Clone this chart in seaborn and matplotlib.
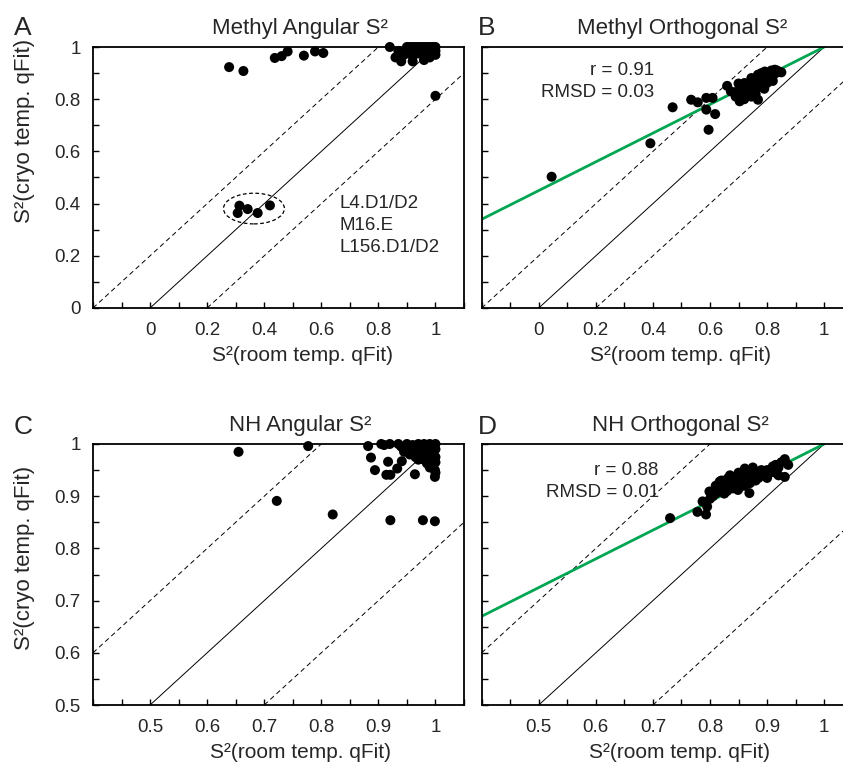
import numpy as np
import pandas as pd
import matplotlib.pyplot as plt
import seaborn as sns
from matplotlib.patches import Ellipse
from matplotlib.ticker import MultipleLocator

# ---- data ----
# A: methyl angular S2 (room temp x, cryo temp y)
methyl_ang_room = [0.277, 0.327, 0.437, 0.461, 0.482, 0.539, 0.578, 0.607,
                   0.313, 0.307, 0.342, 0.377, 0.420, 1.000,
                   0.84, 0.87, 0.86, 0.88, 0.92, 0.96, 1.00, 0.90, 0.91, 0.92,
                   0.93, 0.94, 0.95, 0.96, 0.97, 0.98, 0.99, 1.00, 0.90, 0.93,
                   0.95, 0.97, 0.99, 1.00, 0.92, 0.96, 0.98, 0.89, 0.94]
methyl_ang_cryo = [0.923, 0.908, 0.958, 0.965, 0.983, 0.967, 0.983, 0.977,
                   0.392, 0.364, 0.379, 0.364, 0.393, 0.813,
                   1.00, 0.985, 0.96, 0.945, 0.945, 0.95, 0.97, 1.00, 1.00, 1.00,
                   1.00, 1.00, 1.00, 1.00, 1.00, 1.00, 1.00, 1.00, 0.985, 0.99,
                   0.98, 0.985, 0.975, 0.985, 0.965, 0.965, 0.96, 0.97, 0.975]

# B: methyl orthogonal S2
methyl_ort_room = [0.045, 0.391, 0.469, 0.534, 0.557, 0.587, 0.609, 0.587, 0.618, 0.595,
                   0.66, 0.673, 0.704, 0.71, 0.768, 0.721, 0.745, 0.768, 0.792, 0.827,
                   0.85, 0.80, 0.757, 0.733, 0.78, 0.82, 0.74, 0.76, 0.78, 0.79,
                   0.80, 0.81, 0.83, 0.84, 0.75, 0.77, 0.79, 0.81, 0.82, 0.73,
                   0.72, 0.69, 0.70, 0.76, 0.79, 0.80, 0.77, 0.835, 0.815, 0.78,
                   0.70, 0.745, 0.765]
methyl_ort_cryo = [0.503, 0.631, 0.769, 0.798, 0.788, 0.805, 0.805, 0.760, 0.743, 0.683,
                   0.851, 0.83, 0.792, 0.82, 0.798, 0.862, 0.881, 0.894, 0.906, 0.913,
                   0.903, 0.862, 0.836, 0.823, 0.85, 0.888, 0.85, 0.865, 0.875, 0.885,
                   0.895, 0.90, 0.90, 0.905, 0.86, 0.87, 0.86, 0.875, 0.87, 0.84,
                   0.80, 0.81, 0.835, 0.82, 0.84, 0.88, 0.89, 0.91, 0.91, 0.90,
                   0.86, 0.81, 0.85]

# C: NH angular S2
nh_ang_room = [0.655, 0.777, 0.722, 0.82, 0.921, 0.978, 0.999,
               0.882, 0.887, 0.894, 0.917, 0.914, 0.921, 0.933, 0.941, 0.964, 0.999, 0.999, 0.985,
               0.905, 0.91, 0.92, 0.935, 0.95, 0.96, 0.97, 0.98, 0.99, 1.0,
               0.96, 0.97, 0.98, 0.99, 1.0, 0.95, 0.965, 0.975, 0.985, 0.995,
               1.0, 0.98, 0.99, 1.0, 0.97, 0.955, 0.99, 1.0, 0.945, 0.94]
nh_ang_cryo = [0.985, 0.996, 0.891, 0.865, 0.854, 0.854, 0.852,
               0.996, 0.974, 0.95, 0.966, 0.941, 0.941, 0.953, 0.967, 0.942, 0.937, 0.95, 0.963,
               1.0, 0.998, 1.0, 1.0, 1.0, 0.998, 1.0, 1.0, 1.0, 1.0,
               0.985, 0.99, 0.985, 0.99, 0.99, 0.99, 0.975, 0.98, 0.975, 0.98,
               0.975, 0.97, 0.965, 0.965, 0.97, 0.98, 0.955, 0.945, 0.985, 0.995]

# D: NH orthogonal S2
nh_ort_room = [0.730, 0.778, 0.793, 0.787, 0.799, 0.817, 0.831, 0.861, 0.849, 0.869,
               0.890, 0.910, 0.931, 0.931, 0.937,
               0.795, 0.80, 0.805, 0.81, 0.815, 0.82, 0.825, 0.83, 0.835, 0.84,
               0.845, 0.85, 0.855, 0.86, 0.865, 0.87, 0.875, 0.88, 0.885, 0.89,
               0.895, 0.90, 0.905, 0.91, 0.915, 0.92, 0.925, 0.86, 0.87, 0.88,
               0.84, 0.83, 0.85, 0.81, 0.835, 0.82, 0.90, 0.915, 0.875, 0.92]
nh_ort_cryo = [0.858, 0.870, 0.865, 0.890, 0.909, 0.928, 0.934, 0.953, 0.912, 0.906,
               0.950, 0.957, 0.971, 0.937, 0.960,
               0.88, 0.895, 0.90, 0.905, 0.91, 0.915, 0.905, 0.92, 0.925, 0.93,
               0.935, 0.925, 0.94, 0.93, 0.945, 0.935, 0.94, 0.945, 0.935, 0.94,
               0.945, 0.95, 0.945, 0.95, 0.96, 0.955, 0.965, 0.92, 0.925, 0.93,
               0.915, 0.91, 0.945, 0.92, 0.94, 0.93, 0.935, 0.945, 0.955, 0.94]

# linear fits shown in green (cryo = intercept + slope * room)
fit_intercept = 0.45
fit_slope = 0.55

titles = ["Methyl Angular S\u00b2", "Methyl Orthogonal S\u00b2", "NH Angular S\u00b2", "NH Orthogonal S\u00b2"]
letters = ["A", "B", "C", "D"]
stats_b = "r = 0.91\nRMSD = 0.03"
stats_d = "r = 0.88\nRMSD = 0.01"
methyl_ticks = [0, 0.2, 0.4, 0.6, 0.8, 1.0]
methyl_ticklabels = ["0", "0.2", "0.4", "0.6", "0.8", "1"]
nh_ticks = [0.5, 0.6, 0.7, 0.8, 0.9, 1.0]
nh_ticklabels = ["0.5", "0.6", "0.7", "0.8", "0.9", "1"]
cluster_label = "L4.D1/D2\nM16.E\nL156.D1/D2"

sns.set_style("ticks")
plt.rcParams['font.family'] = ['Liberation Sans', 'DejaVu Sans']

W, H = 843, 763
fig = plt.figure(figsize=(W / 100, H / 100), dpi=100)


def make_ax(left, top):
    # positions in pixels of the reference
    return fig.add_axes([left / W, (H - top - 261) / H, 371 / W, 261 / H])


axA = make_ax(93, 47)
axB = make_ax(481.7, 47)
axC = make_ax(93, 444)
axD = make_ax(481.7, 444)

panels = [
    (axA, methyl_ang_room, methyl_ang_cryo, (-0.2, 1.1), (0, 1), methyl_ticks, methyl_ticklabels, 0.1),
    (axB, methyl_ort_room, methyl_ort_cryo, (-0.2, 1.1), (0, 1), methyl_ticks, methyl_ticklabels, 0.1),
    (axC, nh_ang_room, nh_ang_cryo, (0.4, 1.05), (0.5, 1), nh_ticks, nh_ticklabels, 0.05),
    (axD, nh_ort_room, nh_ort_cryo, (0.4, 1.05), (0.5, 1), nh_ticks, nh_ticklabels, 0.05),
]
title_x = [0.558, 0.54, 0.558, 0.535]
xlabel_x = [0.565, 0.537, 0.56, 0.532]
dash = (0, (5, 3.5))

for i, (ax, xs, ys, xlim, ylim, ticks, ticklabels, minor) in enumerate(panels):
    df = pd.DataFrame({"room": xs, "cryo": ys})
    # diagonal y = x and +/- 0.2 guides
    ax.axline((0, 0), slope=1, color="black", lw=0.7, zorder=1)
    ax.axline((0, 0.2), slope=1, color="black", lw=0.7, ls=dash, zorder=1)
    ax.axline((0, -0.2), slope=1, color="black", lw=0.7, ls=dash, zorder=1)
    sns.scatterplot(data=df, x="room", y="cryo", ax=ax, color="black", s=52,
                    edgecolor="none", zorder=3, clip_on=False)
    ax.set_xlim(xlim)
    ax.set_ylim(ylim)
    ax.set_xticks(ticks)
    ax.set_xticklabels(ticklabels)
    ax.set_yticks(ticks)
    if i in (0, 2):
        ax.set_yticklabels(ticklabels)
        ax.set_ylabel("S\u00b2(cryo temp. qFit)", fontsize=16)
    else:
        ax.set_yticklabels([])
        ax.set_ylabel("")
    ax.xaxis.set_minor_locator(MultipleLocator(minor))
    ax.yaxis.set_minor_locator(MultipleLocator(minor))
    ax.tick_params(which="both", direction="in", length=4, width=1, top=False, right=False,
                   labelsize=13.5, color="black")
    ax.tick_params(axis="x", which="both", pad=10)
    ax.tick_params(axis="y", which="both", pad=9)
    ax.set_xlabel("S\u00b2(room temp. qFit)", fontsize=15)
    ax.xaxis.set_label_coords(xlabel_x[i], -0.145)
    for sp in ax.spines.values():
        sp.set_linewidth(1.3)
        sp.set_color("black")
    ax.text(title_x[i], 1.07, titles[i], transform=ax.transAxes, ha="center", va="center",
            fontsize=16)

axA.yaxis.set_label_coords(-0.155, 0.678)
axC.yaxis.set_label_coords(-0.155, 0.563)

# green fit lines
for ax, x0 in [(axB, -0.2), (axD, 0.4)]:
    fx = np.array([x0, 1.0])
    ax.plot(fx, fit_intercept + fit_slope * fx, color="#00a651", lw=2, zorder=2)

# panel annotations
axA.add_patch(Ellipse((0.364, 0.381), 0.2135, 0.1175, fill=False, ls=(0, (3, 2)),
                      lw=0.9, color="black"))
axA.text(0.662, 0.315, cluster_label, ha="left", va="center", fontsize=13.5, linespacing=1.38)
axB.text(0.403, 0.867, stats_b, ha="right", va="center", fontsize=13.5, linespacing=1.4)
axD.text(0.71, 0.928, stats_d, ha="right", va="center", fontsize=13.5, linespacing=1.4)

for lt, (px, py) in zip(letters, [(23, 28), (487, 28), (23, 427), (487, 427)]):
    fig.text(px / W, 1 - py / H, lt, ha="center", va="center", fontsize=19)

fig.savefig("out.png", dpi=100)
